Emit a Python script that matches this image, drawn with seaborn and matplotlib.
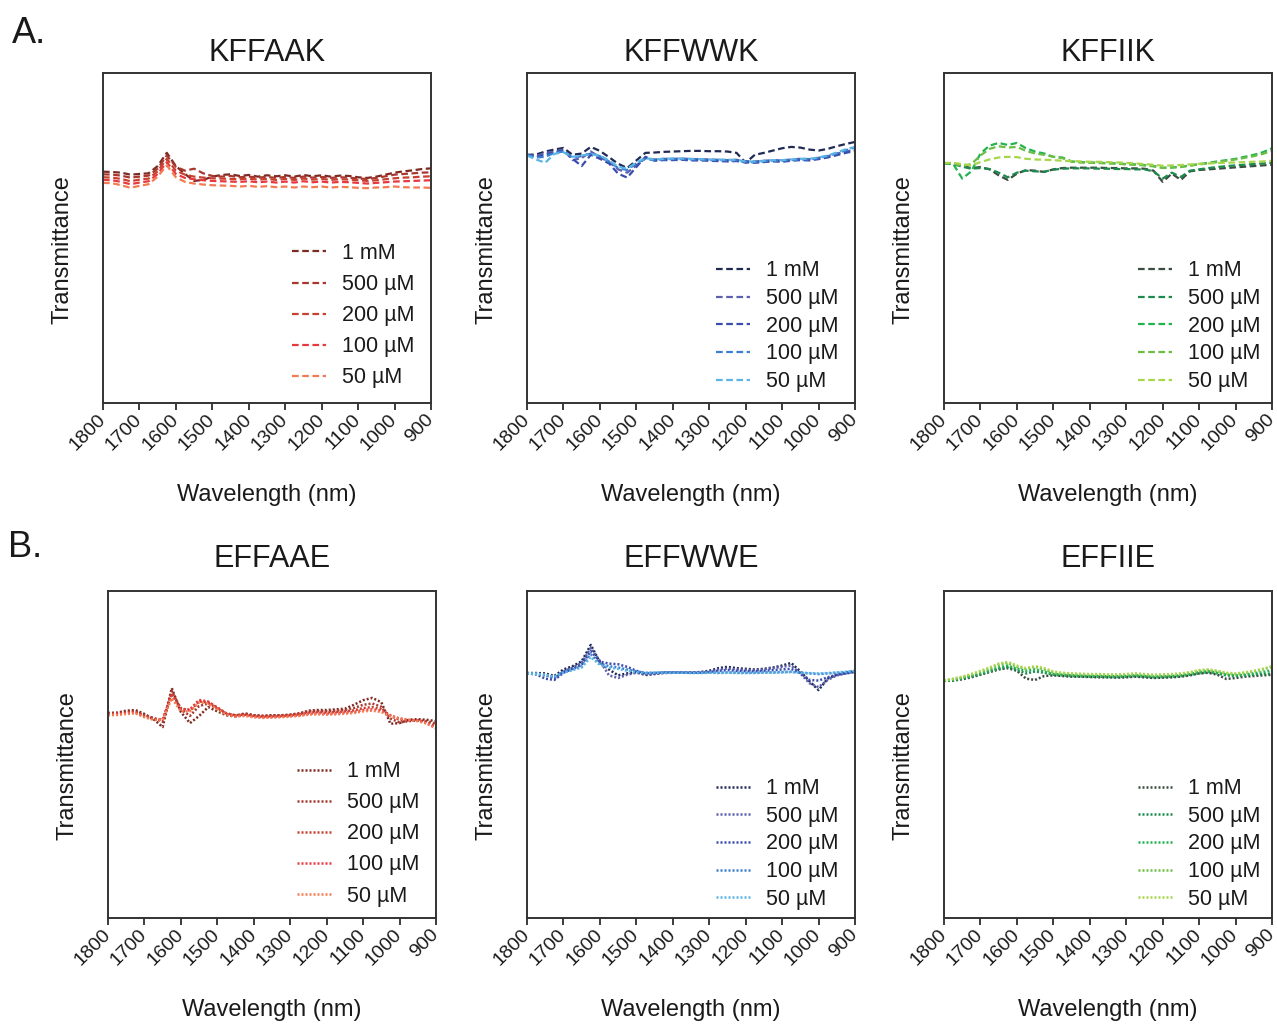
import matplotlib
matplotlib.use("Agg")
import matplotlib.pyplot as plt
import seaborn as sns
import pandas as pd

# Wavelength grid shared by every spectrum (nm)
wavelength = [1800, 1775, 1750, 1725, 1700, 1675, 1650, 1625, 1600, 1575, 1550, 1525,
              1500, 1475, 1450, 1425, 1400, 1375, 1350, 1325, 1300, 1275, 1250, 1225,
              1200, 1175, 1150, 1125, 1100, 1075, 1050, 1025, 1000, 975, 950, 925, 900]

concentrations = ["1 mM", "500 µM", "200 µM", "100 µM", "50 µM"]
x_ticks = [1800, 1700, 1600, 1500, 1400, 1300, 1200, 1100, 1000, 900]

# KFFAAK
kffaak_1mM = [70.1, 70.0, 69.8, 69.2, 69.4, 69.6, 71.8, 75.8, 71.8, 69.4, 67.3, 67.6, 68.6, 69.1, 69.3, 68.8, 69.1, 68.6, 69.0, 68.7, 69.0, 68.6, 69.1, 68.7, 69.0, 68.6, 68.9, 68.8, 68.4, 68.2, 68.6, 69.2, 69.8, 70.2, 70.5, 70.9, 71.1]
kffaak_500uM = [69.3, 69.2, 68.9, 68.3, 68.6, 68.9, 71.0, 75.0, 71.6, 70.4, 71.0, 69.6, 68.8, 68.6, 68.8, 68.4, 68.6, 68.3, 68.5, 68.2, 68.5, 68.2, 68.6, 68.3, 68.5, 68.2, 68.4, 68.3, 68.0, 67.9, 68.2, 68.7, 69.2, 69.4, 69.6, 69.8, 69.9]
kffaak_200uM = [68.4, 68.3, 67.9, 67.2, 67.7, 68.0, 70.2, 74.0, 70.4, 69.2, 68.6, 68.3, 68.1, 68.0, 67.9, 67.8, 68.0, 67.7, 67.9, 67.6, 67.9, 67.6, 68.0, 67.7, 67.9, 67.6, 67.8, 67.7, 67.5, 67.3, 67.5, 67.8, 68.1, 68.3, 68.4, 68.6, 68.7]
kffaak_100uM = [67.6, 67.5, 67.0, 66.3, 66.8, 67.2, 69.4, 73.0, 69.4, 68.2, 67.8, 67.5, 67.3, 67.2, 67.1, 67.0, 67.2, 66.9, 67.1, 66.8, 67.1, 66.8, 67.2, 66.9, 67.1, 66.8, 67.0, 66.9, 66.7, 66.5, 66.7, 66.9, 67.1, 67.2, 67.3, 67.4, 67.5]
kffaak_50uM = [66.7, 66.6, 66.0, 65.2, 65.8, 66.3, 68.6, 72.0, 68.4, 67.0, 66.5, 66.2, 66.0, 65.9, 65.8, 65.6, 65.8, 65.5, 65.7, 65.4, 65.6, 65.3, 65.6, 65.4, 65.6, 65.3, 65.5, 65.4, 65.2, 65.1, 65.3, 65.4, 65.6, 65.4, 65.3, 65.3, 65.2]

# KFFWWK
kffwwk_1mM = [75.2, 75.3, 76.2, 76.8, 77.3, 75.2, 75.6, 77.6, 76.4, 74.5, 72.5, 71.2, 73.5, 75.8, 75.9, 76.1, 76.2, 76.3, 76.4, 76.4, 76.3, 76.3, 76.2, 75.8, 72.8, 75.2, 75.8, 76.5, 77.2, 77.6, 77.4, 76.8, 76.5, 77.0, 77.8, 78.5, 79.1]
kffwwk_500uM = [75.2, 74.8, 75.8, 76.2, 76.8, 73.6, 74.2, 76.2, 74.5, 73.0, 70.8, 69.8, 72.0, 74.2, 73.8, 74.0, 74.0, 74.1, 73.9, 73.9, 73.8, 73.7, 73.6, 73.7, 73.3, 73.2, 73.4, 73.6, 73.5, 73.8, 74.0, 73.9, 74.3, 74.8, 75.5, 76.2, 76.8]
kffwwk_200uM = [75.2, 74.5, 75.2, 76.0, 76.5, 74.0, 71.8, 75.2, 74.0, 72.6, 69.5, 68.3, 71.5, 74.6, 73.4, 73.6, 73.6, 73.7, 73.5, 73.5, 73.4, 73.3, 73.2, 73.3, 72.9, 72.8, 73.0, 73.2, 73.1, 73.4, 73.6, 73.5, 73.9, 74.4, 75.1, 75.8, 76.4]
kffwwk_100uM = [75.1, 74.4, 74.6, 75.8, 76.2, 74.4, 74.8, 75.6, 74.8, 73.2, 71.2, 70.6, 72.6, 74.0, 73.6, 73.8, 73.9, 73.9, 73.8, 73.7, 73.6, 73.6, 73.5, 73.5, 73.0, 73.0, 73.2, 73.4, 73.4, 73.6, 73.8, 73.8, 74.2, 74.8, 75.6, 76.6, 77.4]
kffwwk_50uM = [75.0, 73.8, 72.8, 75.5, 76.0, 74.6, 75.0, 75.4, 75.0, 73.5, 71.6, 71.0, 72.9, 74.2, 73.8, 74.0, 74.1, 74.1, 74.0, 73.9, 73.8, 73.8, 73.7, 73.7, 73.2, 73.2, 73.4, 73.6, 73.6, 73.8, 74.0, 74.0, 74.4, 75.0, 75.9, 76.9, 77.6]

# KFFIIK
kffiik_1mM = [72.7, 72.6, 71.8, 71.2, 71.5, 70.8, 69.0, 67.6, 69.5, 70.6, 70.4, 70.0, 70.8, 71.2, 71.3, 71.3, 71.3, 71.3, 71.2, 71.2, 71.1, 71.1, 71.0, 70.4, 67.0, 69.5, 67.6, 70.2, 70.6, 70.8, 71.0, 71.2, 71.4, 71.6, 71.8, 72.0, 72.2]
kffiik_500uM = [72.6, 72.4, 71.6, 71.0, 71.2, 70.9, 69.8, 68.4, 69.8, 70.4, 70.2, 70.1, 70.7, 71.0, 71.1, 71.1, 71.1, 71.0, 71.0, 70.9, 70.9, 70.8, 70.8, 70.2, 68.0, 69.8, 68.5, 70.4, 70.8, 71.2, 71.5, 71.8, 72.0, 72.2, 72.4, 72.6, 72.8]
kffiik_200uM = [72.8, 72.5, 68.0, 70.2, 75.6, 78.0, 78.8, 78.2, 78.8, 77.2, 76.2, 75.6, 74.6, 74.4, 73.2, 73.0, 72.9, 72.8, 72.7, 72.6, 72.4, 72.3, 72.1, 71.8, 71.3, 71.4, 71.6, 72.0, 72.4, 72.8, 73.2, 73.6, 74.0, 74.6, 75.2, 76.0, 77.2]
kffiik_100uM = [72.7, 72.6, 71.8, 72.4, 75.0, 77.0, 77.8, 77.4, 77.6, 76.4, 75.6, 75.2, 74.6, 74.2, 73.1, 72.9, 72.8, 72.7, 72.6, 72.5, 72.3, 72.2, 72.0, 71.7, 71.2, 71.3, 71.5, 71.9, 72.3, 72.6, 73.0, 73.4, 73.8, 74.3, 74.8, 75.5, 76.4]
kffiik_50uM = [72.7, 72.8, 72.4, 72.0, 73.0, 73.8, 74.4, 74.6, 74.5, 74.0, 73.8, 73.7, 73.6, 73.4, 73.3, 73.2, 73.1, 73.1, 73.0, 72.9, 72.8, 72.6, 72.4, 72.2, 71.9, 72.0, 72.1, 72.3, 72.5, 72.6, 72.7, 72.8, 72.9, 73.0, 73.1, 73.2, 73.4]

# EFFAAE
effaae_1mM = [62.7, 62.8, 63.4, 63.6, 62.4, 60.8, 58.4, 70.3, 63.0, 59.6, 61.8, 64.5, 63.2, 62.0, 61.6, 62.6, 62.0, 61.8, 62.0, 61.9, 62.1, 62.5, 63.4, 63.6, 63.6, 63.8, 64.0, 65.2, 66.6, 67.3, 66.0, 59.4, 59.6, 60.6, 60.8, 60.6, 60.2]
effaae_500uM = [62.6, 62.6, 63.0, 63.2, 62.0, 61.2, 60.0, 69.4, 63.8, 61.8, 64.8, 65.6, 64.0, 62.4, 62.0, 62.4, 62.0, 61.8, 61.9, 62.0, 62.2, 62.6, 63.2, 63.3, 63.2, 63.4, 63.6, 64.2, 65.2, 65.6, 64.6, 61.0, 59.8, 60.2, 60.4, 60.2, 59.4]
effaae_200uM = [62.4, 62.4, 62.8, 63.0, 61.8, 61.0, 60.6, 68.6, 64.2, 63.4, 66.2, 66.0, 64.4, 62.6, 62.0, 62.2, 61.8, 61.6, 61.7, 61.8, 62.0, 62.3, 62.8, 63.0, 62.8, 63.0, 63.2, 63.5, 64.2, 64.5, 63.8, 61.8, 60.6, 60.4, 60.4, 59.8, 58.6]
effaae_100uM = [62.2, 62.3, 62.6, 62.8, 61.6, 60.8, 60.8, 68.0, 63.8, 63.8, 66.7, 66.2, 64.2, 62.4, 61.8, 62.0, 61.6, 61.4, 61.5, 61.6, 61.8, 62.0, 62.4, 62.6, 62.4, 62.6, 62.8, 63.0, 63.6, 63.8, 63.4, 62.0, 61.0, 60.6, 60.4, 59.6, 58.2]
effaae_50uM = [62.0, 62.1, 62.4, 62.6, 61.4, 60.6, 60.6, 67.2, 63.2, 63.2, 66.0, 65.6, 63.8, 62.2, 61.6, 61.8, 61.4, 61.2, 61.3, 61.4, 61.6, 61.8, 62.2, 62.3, 62.2, 62.3, 62.5, 62.7, 63.2, 63.4, 63.0, 61.8, 61.0, 60.6, 60.2, 59.4, 58.0]

# EFFWWE
effwwe_1mM = [74.9, 74.9, 74.8, 74.0, 76.0, 77.0, 78.5, 83.5, 78.2, 76.0, 74.2, 74.8, 75.2, 74.3, 74.6, 75.0, 75.0, 75.0, 75.1, 75.2, 75.6, 76.4, 76.8, 76.4, 76.2, 76.0, 76.2, 76.6, 77.2, 78.0, 75.4, 72.4, 69.7, 73.2, 74.4, 75.0, 75.5]
effwwe_500uM = [74.9, 74.8, 74.4, 73.2, 75.4, 76.6, 78.0, 82.6, 78.6, 74.2, 73.4, 74.4, 75.0, 74.5, 74.7, 74.9, 75.0, 75.0, 75.0, 75.1, 75.4, 76.0, 76.3, 76.0, 75.9, 75.8, 76.0, 76.4, 76.8, 77.2, 74.8, 71.8, 70.6, 72.8, 74.2, 74.8, 75.3]
effwwe_200uM = [74.8, 74.5, 73.2, 72.8, 75.0, 76.2, 77.4, 81.6, 78.4, 77.8, 77.6, 76.8, 75.6, 74.8, 74.9, 75.1, 75.1, 75.1, 75.0, 75.0, 75.2, 75.6, 75.8, 75.6, 75.5, 75.4, 75.6, 75.8, 76.0, 76.2, 74.9, 72.8, 72.6, 73.6, 74.4, 74.8, 75.2]
effwwe_100uM = [74.8, 74.6, 74.2, 73.6, 75.2, 76.0, 77.0, 80.6, 77.8, 77.0, 76.6, 76.0, 75.4, 75.0, 75.0, 75.1, 75.1, 75.0, 75.0, 75.0, 75.1, 75.0, 75.1, 75.0, 75.0, 75.0, 75.1, 75.1, 75.2, 75.3, 75.0, 74.8, 74.6, 74.8, 75.0, 75.2, 75.4]
effwwe_50uM = [74.8, 74.7, 74.4, 73.8, 75.0, 75.8, 76.6, 79.8, 77.4, 76.6, 76.2, 75.6, 75.2, 74.9, 75.0, 75.0, 75.0, 75.0, 74.9, 74.9, 75.0, 74.9, 75.0, 74.9, 74.9, 74.9, 75.0, 75.0, 75.1, 75.2, 75.0, 74.9, 74.8, 74.9, 75.1, 75.3, 75.6]

# EFFIIE
effiie_1mM = [72.5, 72.6, 73.0, 73.6, 74.4, 75.2, 76.0, 76.4, 75.6, 73.2, 72.8, 74.0, 74.2, 74.0, 73.8, 73.8, 73.7, 73.6, 73.6, 73.5, 73.6, 73.8, 73.6, 73.4, 73.5, 73.6, 73.8, 74.2, 74.8, 75.0, 74.4, 73.1, 73.4, 73.8, 74.0, 74.2, 74.4]
effiie_500uM = [72.6, 72.7, 73.2, 73.8, 74.6, 75.4, 76.2, 76.8, 75.8, 74.8, 75.4, 75.0, 74.4, 74.2, 74.0, 73.9, 73.8, 73.8, 73.7, 73.7, 73.8, 74.0, 73.8, 73.6, 73.7, 73.8, 74.0, 74.4, 74.8, 75.2, 74.8, 74.2, 74.0, 74.2, 74.4, 74.6, 74.8]
effiie_200uM = [72.5, 72.8, 73.4, 74.0, 74.8, 75.6, 76.6, 77.2, 76.2, 75.6, 76.0, 75.4, 74.6, 74.4, 74.2, 74.1, 74.0, 74.0, 73.9, 73.9, 74.0, 74.2, 74.0, 73.8, 73.9, 74.0, 74.2, 74.6, 75.2, 75.5, 75.0, 74.4, 74.2, 74.4, 74.8, 75.2, 75.8]
effiie_100uM = [72.6, 73.0, 73.6, 74.4, 75.2, 76.2, 77.4, 78.0, 76.8, 76.2, 76.8, 76.0, 75.0, 74.8, 74.6, 74.5, 74.4, 74.4, 74.3, 74.3, 74.4, 74.6, 74.4, 74.2, 74.3, 74.4, 74.6, 75.0, 75.6, 75.8, 75.4, 74.8, 74.6, 74.9, 75.4, 76.0, 76.8]
effiie_50uM = [72.7, 73.2, 73.8, 74.6, 75.6, 76.6, 77.8, 78.3, 77.2, 76.4, 77.0, 76.4, 75.4, 75.0, 74.8, 74.7, 74.6, 74.6, 74.5, 74.5, 74.6, 74.8, 74.6, 74.4, 74.5, 74.6, 74.8, 75.2, 75.8, 76.0, 75.6, 75.0, 74.8, 75.1, 75.6, 76.2, 77.0]

red_colors = ["#7d2a22", "#a8382f", "#c8412f", "#e8383f", "#f47a52"]
blue_colors = ["#1f2a55", "#5b5fae", "#3a4cae", "#3a7fcf", "#5bb4e6"]
green_colors = ["#3a4d40", "#1b8a4c", "#22b34f", "#6cbd45", "#a7d64b"]

panels = [
    ("KFFAAK", [kffaak_1mM, kffaak_500uM, kffaak_200uM, kffaak_100uM, kffaak_50uM], red_colors, "dash"),
    ("KFFWWK", [kffwwk_1mM, kffwwk_500uM, kffwwk_200uM, kffwwk_100uM, kffwwk_50uM], blue_colors, "dash"),
    ("KFFIIK", [kffiik_1mM, kffiik_500uM, kffiik_200uM, kffiik_100uM, kffiik_50uM], green_colors, "dash"),
    ("EFFAAE", [effaae_1mM, effaae_500uM, effaae_200uM, effaae_100uM, effaae_50uM], red_colors, "dot"),
    ("EFFWWE", [effwwe_1mM, effwwe_500uM, effwwe_200uM, effwwe_100uM, effwwe_50uM], blue_colors, "dot"),
    ("EFFIIE", [effiie_1mM, effiie_500uM, effiie_200uM, effiie_100uM, effiie_50uM], green_colors, "dot"),
]

sns.set_theme(style="white")
plt.rcParams["font.family"] = ["Liberation Sans", "DejaVu Sans"]
plt.rcParams["axes.edgecolor"] = "#333333"
plt.rcParams["axes.linewidth"] = 1.4
plt.rcParams["text.color"] = "#1a1a1a"
plt.rcParams["axes.labelcolor"] = "#1a1a1a"
plt.rcParams["xtick.color"] = "#1a1a1a"

W, H = 1277, 1025
fig = plt.figure(figsize=(W / 100, H / 100), dpi=100)

# axes boxes in pixels: (left, top, right, bottom)
boxes = [(103, 73, 431, 403), (527, 73, 855, 403), (944, 73, 1272, 403),
         (108, 591, 436, 918), (527, 591, 855, 918), (944, 591, 1272, 918)]
legend_anchor = [(0.575, 0.485), (0.575, 0.432), (0.59, 0.432),
                 (0.575, 0.48), (0.575, 0.428), (0.59, 0.428)]
legend_spacing = [0.47, 0.31, 0.31, 0.47, 0.31, 0.31]

for i, (title, series, colors, style) in enumerate(panels):
    l, t, r, b = boxes[i]
    ax = fig.add_axes([l / W, 1 - b / H, (r - l) / W, (b - t) / H])
    df = pd.DataFrame({
        "Wavelength": wavelength * len(series),
        "Transmittance": [v for s in series for v in s],
        "Concentration": [c for c in concentrations for _ in wavelength],
    })
    dash = (3, 1.6) if style == "dash" else (0.8, 0.8)
    sns.lineplot(data=df, x="Wavelength", y="Transmittance", hue="Concentration",
                 style="Concentration", palette=dict(zip(concentrations, colors)),
                 dashes={c: dash for c in concentrations}, estimator=None, sort=False,
                 linewidth=1.6 if style == "dash" else 1.8, ax=ax)
    ax.set_xlim(1800, 900)
    ax.set_ylim(0, 100)
    ax.set_xticks(x_ticks)
    ax.set_xticklabels([str(v) for v in x_ticks], rotation=45, ha="right", va="center",
                       rotation_mode="anchor", fontsize=14)
    ax.tick_params(axis="x", bottom=True, direction="out", length=5, width=1.2, pad=5)
    ax.set_yticks([])
    ax.set_xlabel("Wavelength (nm)", fontsize=17, labelpad=21.5)
    ax.set_ylabel("Transmittance", fontsize=17)
    ax.yaxis.set_label_coords(-0.09, 0.465)
    ax.set_title(title, fontsize=22, pad=9 if i < 3 else 17)
    for sp in ax.spines.values():
        sp.set_visible(True)
    handles, labels = ax.get_legend_handles_labels()
    ax.legend(handles, labels, loc="upper left", bbox_to_anchor=legend_anchor[i],
              frameon=False, fontsize=15.5, handlelength=1.6, handletextpad=0.75,
              labelspacing=legend_spacing[i], borderpad=0, borderaxespad=0)

fig.text(0.009, 0.958, "A.", fontsize=26)
fig.text(0.006, 0.457, "B.", fontsize=26)

fig.savefig("out.png", dpi=100, facecolor="white")
